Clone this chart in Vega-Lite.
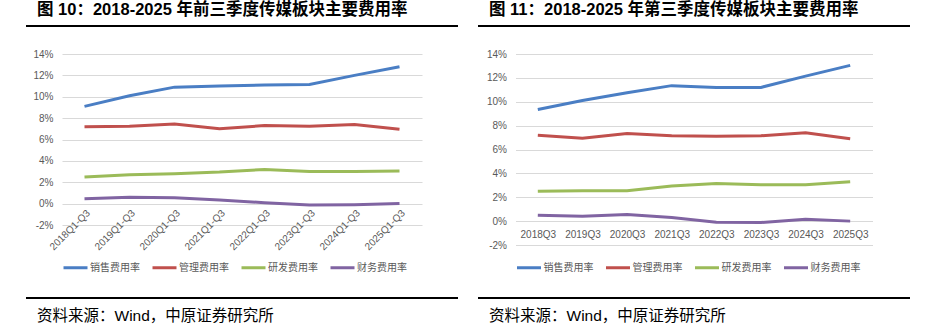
{
  "$schema": "https://vega.github.io/schema/vega-lite/v6.json",
  "padding": {"left": 26, "top": 1, "right": 0, "bottom": 0},
  "background": "white",
  "config": {
    "view": {"stroke": null},
    "font": "Liberation Sans, Noto Sans CJK SC"
  },
  "datasets": {
    "ytd": [
      {"period": "2018Q1-Q3", "series": "销售费用率", "value": 9.1},
      {"period": "2019Q1-Q3", "series": "销售费用率", "value": 10.1},
      {"period": "2020Q1-Q3", "series": "销售费用率", "value": 10.9},
      {"period": "2021Q1-Q3", "series": "销售费用率", "value": 11.0},
      {"period": "2022Q1-Q3", "series": "销售费用率", "value": 11.1},
      {"period": "2023Q1-Q3", "series": "销售费用率", "value": 11.15},
      {"period": "2024Q1-Q3", "series": "销售费用率", "value": 12.0},
      {"period": "2025Q1-Q3", "series": "销售费用率", "value": 12.8},
      {"period": "2018Q1-Q3", "series": "管理费用率", "value": 7.2},
      {"period": "2019Q1-Q3", "series": "管理费用率", "value": 7.25},
      {"period": "2020Q1-Q3", "series": "管理费用率", "value": 7.45},
      {"period": "2021Q1-Q3", "series": "管理费用率", "value": 7.0},
      {"period": "2022Q1-Q3", "series": "管理费用率", "value": 7.3},
      {"period": "2023Q1-Q3", "series": "管理费用率", "value": 7.25},
      {"period": "2024Q1-Q3", "series": "管理费用率", "value": 7.4},
      {"period": "2025Q1-Q3", "series": "管理费用率", "value": 6.95},
      {"period": "2018Q1-Q3", "series": "研发费用率", "value": 2.5},
      {"period": "2019Q1-Q3", "series": "研发费用率", "value": 2.7},
      {"period": "2020Q1-Q3", "series": "研发费用率", "value": 2.8},
      {"period": "2021Q1-Q3", "series": "研发费用率", "value": 2.95},
      {"period": "2022Q1-Q3", "series": "研发费用率", "value": 3.2},
      {"period": "2023Q1-Q3", "series": "研发费用率", "value": 3.0},
      {"period": "2024Q1-Q3", "series": "研发费用率", "value": 3.0},
      {"period": "2025Q1-Q3", "series": "研发费用率", "value": 3.05},
      {"period": "2018Q1-Q3", "series": "财务费用率", "value": 0.45},
      {"period": "2019Q1-Q3", "series": "财务费用率", "value": 0.6},
      {"period": "2020Q1-Q3", "series": "财务费用率", "value": 0.55},
      {"period": "2021Q1-Q3", "series": "财务费用率", "value": 0.35},
      {"period": "2022Q1-Q3", "series": "财务费用率", "value": 0.08},
      {"period": "2023Q1-Q3", "series": "财务费用率", "value": -0.14},
      {"period": "2024Q1-Q3", "series": "财务费用率", "value": -0.1},
      {"period": "2025Q1-Q3", "series": "财务费用率", "value": 0.02}
    ],
    "q3": [
      {"period": "2018Q3", "series": "销售费用率", "value": 9.35},
      {"period": "2019Q3", "series": "销售费用率", "value": 10.1},
      {"period": "2020Q3", "series": "销售费用率", "value": 10.75},
      {"period": "2021Q3", "series": "销售费用率", "value": 11.35},
      {"period": "2022Q3", "series": "销售费用率", "value": 11.2},
      {"period": "2023Q3", "series": "销售费用率", "value": 11.2},
      {"period": "2024Q3", "series": "销售费用率", "value": 12.15},
      {"period": "2025Q3", "series": "销售费用率", "value": 13.05},
      {"period": "2018Q3", "series": "管理费用率", "value": 7.2},
      {"period": "2019Q3", "series": "管理费用率", "value": 6.95},
      {"period": "2020Q3", "series": "管理费用率", "value": 7.35},
      {"period": "2021Q3", "series": "管理费用率", "value": 7.15},
      {"period": "2022Q3", "series": "管理费用率", "value": 7.1},
      {"period": "2023Q3", "series": "管理费用率", "value": 7.15},
      {"period": "2024Q3", "series": "管理费用率", "value": 7.4},
      {"period": "2025Q3", "series": "管理费用率", "value": 6.9},
      {"period": "2018Q3", "series": "研发费用率", "value": 2.5},
      {"period": "2019Q3", "series": "研发费用率", "value": 2.55},
      {"period": "2020Q3", "series": "研发费用率", "value": 2.55},
      {"period": "2021Q3", "series": "研发费用率", "value": 2.95},
      {"period": "2022Q3", "series": "研发费用率", "value": 3.15},
      {"period": "2023Q3", "series": "研发费用率", "value": 3.05},
      {"period": "2024Q3", "series": "研发费用率", "value": 3.05},
      {"period": "2025Q3", "series": "研发费用率", "value": 3.3},
      {"period": "2018Q3", "series": "财务费用率", "value": 0.5},
      {"period": "2019Q3", "series": "财务费用率", "value": 0.4},
      {"period": "2020Q3", "series": "财务费用率", "value": 0.55},
      {"period": "2021Q3", "series": "财务费用率", "value": 0.3},
      {"period": "2022Q3", "series": "财务费用率", "value": -0.1},
      {"period": "2023Q3", "series": "财务费用率", "value": -0.12},
      {"period": "2024Q3", "series": "财务费用率", "value": 0.15},
      {"period": "2025Q3", "series": "财务费用率", "value": 0.0}
    ]
  },
  "spacing": 20,
  "hconcat": [
    {
      "spacing": 18,
      "center": true,
      "resolve": {"scale": {"color": "independent"}, "legend": {"color": "independent"}},
      "vconcat": [
        {
          "width": 432, "height": 2,
          "data": {"values": [{}]},
          "mark": {"type": "text"},
          "encoding": {},
          "view": {"fill": "black", "stroke": null},
          "title": {"text": "图 10：2018-2025 年前三季度传媒板块主要费用率", "anchor": "start", "dx": 11, "fontSize": 16.5, "fontWeight": "bold", "color": "black", "offset": 2}
        },
        {
          "width": 360, "height": 171,
          "data": {"name": "ytd"},
          "mark": {"type": "line", "strokeWidth": 3},
          "encoding": {
            "x": {"field": "period", "type": "nominal", "sort": null,
              "scale": {"type": "point", "padding": 0.5},
              "axis": {"title": null, "domain": false, "ticks": false, "grid": false, "offset": -21.4, "labelAngle": -45, "labelFontSize": 10, "labelColor": "#595959", "labelPadding": 4}},
            "y": {"field": "value", "type": "quantitative",
              "scale": {"domain": [-2, 14], "nice": false, "zero": false},
              "axis": {"title": null, "values": [-2, 0, 2, 4, 6, 8, 10, 12, 14], "labelExpr": "datum.value + '%'", "domain": false, "ticks": false, "gridColor": "#d9d9d9", "labelFontSize": 10, "labelColor": "#595959", "labelPadding": 9}},
            "color": {"field": "series", "type": "nominal",
              "scale": {"domain": ["销售费用率", "管理费用率", "研发费用率", "财务费用率"], "range": ["#4A7EC4", "#C0504D", "#9BBB59", "#8064A2"]},
              "legend": {"title": null, "orient": "bottom", "direction": "horizontal", "symbolType": "stroke", "symbolSize": 576, "symbolStrokeWidth": 3, "labelFontSize": 10, "labelColor": "#595959", "labelFont": "Noto Sans CJK SC", "columnPadding": 6, "labelOffset": 1, "offset": 2, "padding": 0}}
          }
        },
        {
          "width": 432, "height": 2,
          "data": {"values": [{}]},
          "mark": {"type": "text"},
          "encoding": {},
          "view": {"fill": "black", "stroke": null},
          "title": {"text": "资料来源：Wind，中原证券研究所", "orient": "bottom", "anchor": "start", "dx": 11, "fontSize": 15.5, "fontWeight": "normal", "color": "black", "offset": 6}
        }
      ]
    },
    {
      "spacing": 18,
      "center": true,
      "resolve": {"scale": {"color": "independent"}, "legend": {"color": "independent"}},
      "vconcat": [
        {
          "width": 432, "height": 2,
          "data": {"values": [{}]},
          "mark": {"type": "text"},
          "encoding": {},
          "view": {"fill": "black", "stroke": null},
          "title": {"text": "图 11：2018-2025 年第三季度传媒板块主要费用率", "anchor": "start", "dx": 11, "fontSize": 16.5, "fontWeight": "bold", "color": "black", "offset": 2}
        },
        {
          "width": 357, "height": 191,
          "data": {"name": "q3"},
          "mark": {"type": "line", "strokeWidth": 3},
          "encoding": {
            "x": {"field": "period", "type": "nominal", "sort": null,
              "scale": {"type": "point", "padding": 0.5},
              "axis": {"title": null, "domain": false, "ticks": false, "grid": false, "offset": -23.9, "labelAngle": 0, "labelFontSize": 10, "labelColor": "#595959", "labelPadding": 8}},
            "y": {"field": "value", "type": "quantitative",
              "scale": {"domain": [-2, 14], "nice": false, "zero": false},
              "axis": {"title": null, "values": [-2, 0, 2, 4, 6, 8, 10, 12, 14], "labelExpr": "datum.value + '%'", "domain": false, "ticks": false, "gridColor": "#d9d9d9", "labelFontSize": 10, "labelColor": "#595959", "labelPadding": 9}},
            "color": {"field": "series", "type": "nominal",
              "scale": {"domain": ["销售费用率", "管理费用率", "研发费用率", "财务费用率"], "range": ["#4A7EC4", "#C0504D", "#9BBB59", "#8064A2"]},
              "legend": {"title": null, "orient": "bottom", "direction": "horizontal", "symbolType": "stroke", "symbolSize": 576, "symbolStrokeWidth": 3, "labelFontSize": 10, "labelColor": "#595959", "labelFont": "Noto Sans CJK SC", "columnPadding": 6, "labelOffset": 1, "offset": 9, "padding": 0}}
          }
        },
        {
          "width": 432, "height": 2,
          "data": {"values": [{}]},
          "mark": {"type": "text"},
          "encoding": {},
          "view": {"fill": "black", "stroke": null},
          "title": {"text": "资料来源：Wind，中原证券研究所", "orient": "bottom", "anchor": "start", "dx": 11, "fontSize": 15.5, "fontWeight": "normal", "color": "black", "offset": 6}
        }
      ]
    }
  ]
}
